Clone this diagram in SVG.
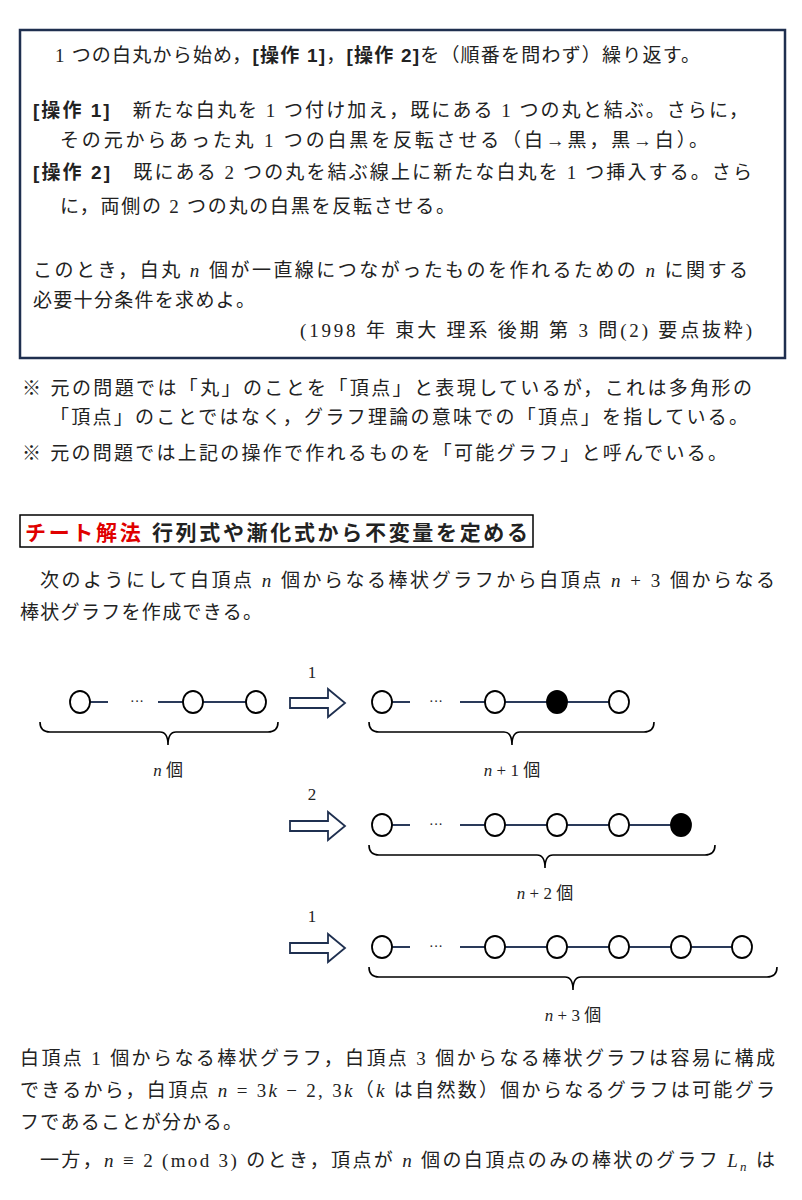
<svg xmlns="http://www.w3.org/2000/svg" width="802" height="1200" viewBox="0 0 802 1200">
<style>
text{font-family:"Liberation Serif","Noto Sans CJK JP",serif;font-size:19px;fill:#222}
.b{font-family:"Liberation Sans","Noto Sans CJK JP",sans-serif;font-weight:bold}
.i{font-style:italic}
.w{fill:#fff;stroke:#000;stroke-width:1.8}
.k{fill:#000;stroke:#000;stroke-width:1.8}
.e{stroke:#2a3a5a;stroke-width:2}
.br{fill:none;stroke:#000;stroke-width:1.6}
.ar{fill:#fff;stroke:#1f3050;stroke-width:1.8}
.c{text-anchor:middle}
</style>
<rect width="802" height="1200" fill="#fff"/>
<rect x="20" y="30" width="765" height="328" fill="none" stroke="#1f2f4f" stroke-width="2.5"/>
<text x="55" y="62" textLength="645" lengthAdjust="spacing">1 つの白丸から始め，<tspan class="b">[操作 1]</tspan>，<tspan class="b">[操作 2]</tspan>を（順番を問わず）繰り返す。</text>
<text x="33" y="117" textLength="715" lengthAdjust="spacing"><tspan class="b">[操作 1]</tspan>　新たな白丸を 1 つ付け加え，既にある 1 つの丸と結ぶ。さらに，</text>
<text x="60" y="147" textLength="648" lengthAdjust="spacing">その元からあった丸 1 つの白黒を反転させる（白→黒，黒→白）。</text>
<text x="33" y="179" textLength="719" lengthAdjust="spacing"><tspan class="b">[操作 2]</tspan>　既にある 2 つの丸を結ぶ線上に新たな白丸を 1 つ挿入する。さら</text>
<text x="60" y="213" textLength="395" lengthAdjust="spacing">に，両側の 2 つの丸の白黒を反転させる。</text>
<text x="33" y="277" textLength="715" lengthAdjust="spacing">このとき，白丸 <tspan class="i">n</tspan> 個が一直線につながったものを作れるための <tspan class="i">n</tspan> に関する</text>
<text x="33" y="307" textLength="222" lengthAdjust="spacing">必要十分条件を求めよ。</text>
<text x="300" y="337" textLength="452" lengthAdjust="spacing">(1998 年  東大  理系  後期  第 3 問(2)  要点抜粋)</text>
<text x="22" y="395" textLength="730" lengthAdjust="spacing">※  元の問題では「丸」のことを「頂点」と表現しているが，これは多角形の</text>
<text x="50" y="424" textLength="698" lengthAdjust="spacing">「頂点」のことではなく，グラフ理論の意味での「頂点」を指している。</text>
<text x="22" y="460" textLength="705" lengthAdjust="spacing">※  元の問題では上記の操作で作れるものを「可能グラフ」と呼んでいる。</text>
<rect x="20" y="515" width="513" height="32" fill="none" stroke="#000" stroke-width="1.5"/>
<text x="25" y="540" class="b" style="font-size:21px" textLength="503" lengthAdjust="spacing"><tspan style="fill:#e00000">チート解法</tspan> 行列式や漸化式から不変量を定める</text>
<text x="40" y="587" textLength="735" lengthAdjust="spacing">次のようにして白頂点 <tspan class="i">n</tspan> 個からなる棒状グラフから白頂点 <tspan class="i">n</tspan> + 3 個からなる</text>
<text x="20" y="619" textLength="242" lengthAdjust="spacing">棒状グラフを作成できる。</text>
<g id="connectors">
<path class="e" d="M90 702H108M158 702H183M203 702H246"/>
<path class="e" d="M392 702H410M460 702H485M505 702H547M567 702H609"/>
<path class="e" d="M392 825H410M460 825H485M505 825H547M567 825H609M629 825H671"/>
<path class="e" d="M392 947H410M460 947H485M505 947H547M567 947H609M629 947H671M691 947H732"/>
<polygon class="ar" points="290,698 328,698 328,689 345,703 328,717 328,708 290,708"/>
<polygon class="ar" points="290,821 328,821 328,812 345,826 328,840 328,831 290,831"/>
<polygon class="ar" points="290,943 328,943 328,934 345,948 328,962 328,953 290,953"/>
<path class="br" d="M40 722Q40 732 50 732L160 732Q168 732 168 745Q168 732 176 732L268 732Q278 732 278 722"/>
<path class="br" d="M369 722Q369 732 379 732L504 732Q512 732 512 745Q512 732 520 732L644 732Q654 732 654 722"/>
<path class="br" d="M369 845Q369 855 379 855L537 855Q545 855 545 868Q545 855 553 855L705 855Q715 855 715 845"/>
<path class="br" d="M369 967Q369 977 379 977L565 977Q573 977 573 990Q573 977 581 977L767 977Q777 977 777 967"/>
</g>
<g id="row1-left"><ellipse class="w" cx="80" cy="702" rx="10" ry="11"/><ellipse class="w" cx="193" cy="702" rx="10" ry="11"/><ellipse class="w" cx="256" cy="702" rx="10" ry="11"/><text x="137" y="706" class="c" style="font-size:14px">···</text></g>
<g id="row1-right"><ellipse class="w" cx="382" cy="702" rx="10" ry="11"/><ellipse class="w" cx="495" cy="702" rx="10" ry="11"/><ellipse class="k" cx="557" cy="702" rx="10" ry="11"/><ellipse class="w" cx="619" cy="702" rx="10" ry="11"/><text x="436" y="706" class="c" style="font-size:14px">···</text></g>
<g id="row2"><ellipse class="w" cx="382" cy="825" rx="10" ry="11"/><ellipse class="w" cx="495" cy="825" rx="10" ry="11"/><ellipse class="w" cx="557" cy="825" rx="10" ry="11"/><ellipse class="w" cx="619" cy="825" rx="10" ry="11"/><ellipse class="k" cx="681" cy="825" rx="10" ry="11"/><text x="436" y="829" class="c" style="font-size:14px">···</text></g>
<g id="row3"><ellipse class="w" cx="382" cy="947" rx="10" ry="11"/><ellipse class="w" cx="495" cy="947" rx="10" ry="11"/><ellipse class="w" cx="557" cy="947" rx="10" ry="11"/><ellipse class="w" cx="619" cy="947" rx="10" ry="11"/><ellipse class="w" cx="681" cy="947" rx="10" ry="11"/><ellipse class="w" cx="742" cy="947" rx="10" ry="11"/><text x="436" y="951" class="c" style="font-size:14px">···</text></g>
<g id="labels">
<text x="312" y="678" class="c" style="font-size:17px">1</text>
<text x="312" y="800" class="c" style="font-size:17px">2</text>
<text x="312" y="922" class="c" style="font-size:17px">1</text>
<text x="168" y="776" class="c" style="font-size:17px"><tspan class="i">n</tspan> 個</text>
<text x="512" y="776" class="c" style="font-size:17px"><tspan class="i">n</tspan> + 1 個</text>
<text x="545" y="899" class="c" style="font-size:17px"><tspan class="i">n</tspan> + 2 個</text>
<text x="573" y="1021" class="c" style="font-size:17px"><tspan class="i">n</tspan> + 3 個</text>
</g>
<text x="20" y="1065" textLength="755" lengthAdjust="spacing">白頂点 1 個からなる棒状グラフ，白頂点 3 個からなる棒状グラフは容易に構成</text>
<text x="20" y="1097" textLength="755" lengthAdjust="spacing">できるから，白頂点 <tspan class="i">n</tspan> = 3<tspan class="i">k</tspan> − 2, 3<tspan class="i">k</tspan>（<tspan class="i">k</tspan> は自然数）個からなるグラフは可能グラ</text>
<text x="20" y="1129" textLength="222" lengthAdjust="spacing">フであることが分かる。</text>
<text x="40" y="1167" textLength="735" lengthAdjust="spacing">一方，<tspan class="i">n</tspan> ≡ 2 (mod 3) のとき，頂点が <tspan class="i">n</tspan> 個の白頂点のみの棒状のグラフ <tspan class="i">L</tspan><tspan style="font-size:13px" dy="4" class="i">n</tspan><tspan dy="-4"> は</tspan></text>
</svg>
